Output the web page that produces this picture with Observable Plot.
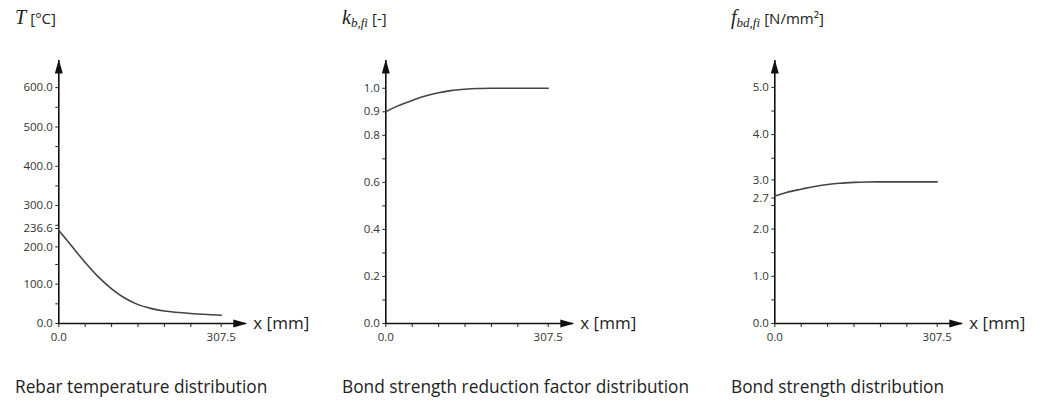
<!DOCTYPE html>
<html>
<head>
<meta charset="utf-8">
<script src="https://cdn.jsdelivr.net/npm/d3@7"></script>
<script src="https://cdn.jsdelivr.net/npm/@observablehq/plot@0.6"></script>
<style>
  body { margin: 0; background: #fff; font-family: "Open Sans", sans-serif; }
  #root { position: relative; width: 1043px; height: 403px; overflow: hidden; }
  .panel { position: absolute; top: 0; width: 330px; height: 403px; }
  .title { position: absolute; left: 15px; top: 2px; white-space: nowrap; color: #222; line-height: 30px; }
  .title .m { font-family: "Liberation Serif", serif; font-style: italic; font-size: 20px; }
  .title .m sub { font-size: 13px; vertical-align: -3px; }
  .title .u { font-family: "Open Sans", sans-serif; font-size: 15px; }
  .chart { position: absolute; left: 0; top: 40px; }
  .caption { position: absolute; left: 15px; top: 375px; white-space: nowrap; font-size: 17.3px; color: #222; }
</style>
</head>
<body>
<div id="root"></div>
<script>
// ---- data ----
const xPositions   = [0, 22, 50, 73, 100, 123, 150, 174, 200, 250, 307.5];
const temperature  = [236.6, 201, 155, 121, 88, 66, 48, 38.5, 32, 25.5, 21];
const kbfi         = [0.9, 0.924, 0.948, 0.966, 0.981, 0.99, 0.996, 0.999, 1.0, 1.0, 1.0];
const fbdfi        = [2.7, 2.775, 2.845, 2.898, 2.943, 2.97, 2.988, 2.997, 3.0, 3.0, 3.0];

const xTickLabels  = [0, 307.5];
const xMinorTicks  = [50, 100, 150, 200, 250];
const xAxisEnd     = 355;

// regular labelled ticks, then the close pair [upper, lower]
const tTicks       = [0, 100, 300, 400, 500, 600];
const tPair        = [236.6, 200];
const tMinor       = [50, 150, 250, 350, 450, 550];
const tAxisEnd     = 669;

const kTicks       = [0, 0.2, 0.4, 0.6, 0.8, 0.9, 1.0];
const kPair        = [];
const kMinor       = [0.1, 0.3, 0.5, 0.7];
const kAxisEnd     = 1.118;

const fTicks       = [0, 1, 2, 4, 5];
const fPair        = [3, 2.7];
const fMinor       = [0.5, 1.5, 2.5, 3.5, 4.5];
const fAxisEnd     = 5.57;

const captions = [
  "Rebar temperature distribution",
  "Bond strength reduction factor distribution",
  "Bond strength distribution"
];
const titles = [
  '<span class="m">T</span> <span class="u">[°C]</span>',
  '<span class="m">k<sub>b,fi</sub></span> <span class="u">[-]</span>',
  '<span class="m">f<sub>bd,fi</sub></span> <span class="u">[N/mm²]</span>'
];
const panelLefts = [0, 327, 716];

// ---- drawing ----
const arrowRight = { draw(ctx) { ctx.moveTo(1, 0); ctx.lineTo(-13, -4); ctx.lineTo(-13, 4); ctx.closePath(); } };
const arrowUp    = { draw(ctx) { ctx.moveTo(0, -1); ctx.lineTo(-4, 13); ctx.lineTo(4, 13); ctx.closePath(); } };
const fmt1 = d3.format(".1f");

function makeChart(values, yTicks, yPair, yMinor, yEnd) {
  const data = xPositions.map((x, i) => ({x, y: values[i]}));
  const W = 330, ml = 58.3, plotW = 187.5;
  const axisOpts = { tickFormat: fmt1, tickSize: 3, tickPadding: 3, stroke: "#222", fontSize: 11.5, label: null };
  const pairMarks = yPair.length ? [
    Plot.axisY({ ...axisOpts, ticks: [yPair[0]], dy: -2 }),
    Plot.axisY({ ...axisOpts, ticks: [yPair[1]], dy: 2 })
  ] : [];
  return Plot.plot({
    width: W,
    height: 313,
    marginLeft: ml,
    marginRight: W - ml - plotW,
    marginTop: 20,
    marginBottom: 30,
    style: { fontFamily: "Open Sans", fontSize: "11.5px", color: "#333", overflow: "visible", background: "transparent" },
    x: { domain: [0, xAxisEnd], axis: null },
    y: { domain: [0, yEnd], axis: null },
    marks: [
      Plot.axisY({ ...axisOpts, ticks: yTicks }),
      ...pairMarks,
      Plot.axisY({ ticks: yMinor, tickFormat: () => "", tickSize: 3, stroke: "#222", label: null }),
      Plot.axisX({ ticks: xTickLabels, tickFormat: fmt1, tickSize: 4, tickPadding: 5, stroke: "#222", fontSize: 11.5, label: null }),
      Plot.axisX({ ticks: xMinorTicks, tickFormat: () => "", tickSize: 4, stroke: "#222", label: null }),
      Plot.ruleY([0], { stroke: "#111", strokeWidth: 1.6 }),
      Plot.ruleX([0], { stroke: "#111", strokeWidth: 1.6 }),
      Plot.dot([{x: xAxisEnd, y: 0}], { x: "x", y: "y", symbol: arrowRight, fill: "#111", stroke: "none" }),
      Plot.dot([{x: 0, y: yEnd}], { x: "x", y: "y", symbol: arrowUp, fill: "#111", stroke: "none" }),
      Plot.text([{x: xAxisEnd, y: 0}], { x: "x", y: "y", text: () => "x [mm]", dx: 7, textAnchor: "start", fontSize: 17, fill: "#222" }),
      Plot.line(data, { x: "x", y: "y", curve: "catmull-rom", stroke: "#444", strokeWidth: 1.6 })
    ]
  });
}

const root = document.getElementById("root");
const series = [
  [temperature, tTicks, tPair, tMinor, tAxisEnd],
  [kbfi, kTicks, kPair, kMinor, kAxisEnd],
  [fbdfi, fTicks, fPair, fMinor, fAxisEnd]
];
series.forEach((s, i) => {
  const panel = document.createElement("div");
  panel.className = "panel";
  panel.style.left = panelLefts[i] + "px";
  const t = document.createElement("div");
  t.className = "title";
  t.innerHTML = titles[i];
  panel.appendChild(t);
  const c = document.createElement("div");
  c.className = "chart";
  c.appendChild(makeChart(...s));
  panel.appendChild(c);
  const cap = document.createElement("div");
  cap.className = "caption";
  cap.textContent = captions[i];
  panel.appendChild(cap);
  root.appendChild(panel);
});
</script>
</body>
</html>
